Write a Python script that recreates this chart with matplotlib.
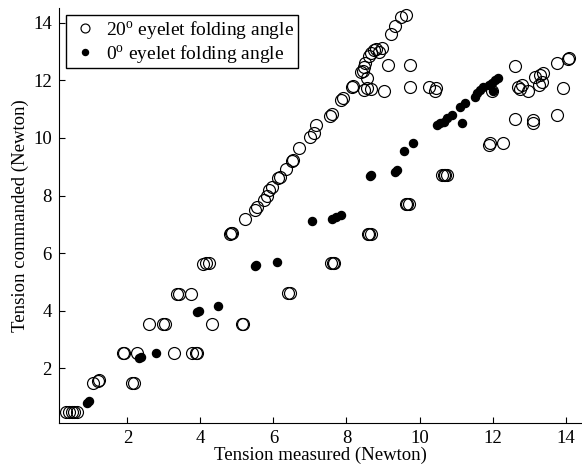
import numpy as np
import matplotlib
matplotlib.use('Agg')
import matplotlib.pyplot as plt

# 20 deg eyelet folding angle (open circles)
x20 = [0.32, 0.40, 0.47, 0.55, 0.62,
       1.05, 1.23, 1.20, 2.12, 2.17,
       1.87, 1.90, 2.26, 3.28, 3.78, 3.88, 3.90,
       2.60, 2.97, 3.04, 4.33, 5.13, 5.17,
       3.35, 3.40, 3.74, 6.41, 6.45,
       4.06, 4.15, 4.24, 7.58, 7.62, 7.66,
       4.80, 4.83, 4.86, 8.58, 8.62, 8.66,
       9.62, 9.66, 9.72,
       10.62, 10.66, 10.70, 10.76,
       11.89, 11.94, 12.30,
       12.62, 13.10, 13.12, 13.76,
       5.22, 5.50, 5.54, 5.74, 5.81, 5.88, 5.95, 6.13, 6.17, 6.34, 6.50, 6.54,
       6.71, 7.01, 7.11, 7.17, 7.55, 7.59, 7.86, 7.90, 8.14, 8.18, 8.41, 8.45,
       8.48, 8.52, 8.57, 8.62, 8.66, 8.76, 8.82, 8.90, 8.98, 9.23, 9.34, 9.48, 9.64,
       8.48, 8.57, 8.66, 9.02, 9.75, 10.25, 10.44, 10.43, 11.98, 12.71, 12.76,
       12.80, 12.98, 13.26, 13.35, 13.94,
       9.14, 9.75, 12.62, 13.17, 13.30, 13.39, 13.76, 14.06, 14.10]
y20 = [0.47, 0.47, 0.47, 0.47, 0.47,
       1.47, 1.58, 1.55, 1.50, 1.50,
       2.53, 2.53, 2.53, 2.53, 2.53, 2.53, 2.53,
       3.55, 3.55, 3.55, 3.55, 3.55, 3.55,
       4.58, 4.58, 4.58, 4.60, 4.60,
       5.62, 5.64, 5.64, 5.64, 5.64, 5.64,
       6.66, 6.71, 6.69, 6.66, 6.66, 6.66,
       7.70, 7.70, 7.70,
       8.71, 8.71, 8.71, 8.71,
       9.76, 9.82, 9.82,
       10.65, 10.63, 10.51, 10.80,
       7.17, 7.50, 7.61, 7.84, 7.98, 8.19, 8.31, 8.60, 8.66, 8.91, 9.20, 9.25,
       9.64, 10.05, 10.17, 10.45, 10.78, 10.82, 11.33, 11.38, 11.76, 11.80, 12.28, 12.33,
       12.45, 12.60, 12.07, 12.85, 12.94, 13.05, 13.10, 13.00, 13.12, 13.62, 13.90, 14.22, 14.26,
       11.67, 11.73, 11.70, 11.65, 11.76, 11.78, 11.75, 11.62, 11.62, 11.78, 11.69,
       11.84, 11.62, 11.84, 11.96, 11.73,
       12.52, 12.52, 12.50, 12.13, 12.19, 12.25, 12.60, 12.75, 12.79]

# 0 deg eyelet folding angle (filled dots)
x0 = [0.89, 0.96, 2.33, 2.37, 2.78, 3.90, 3.95, 4.49, 5.50, 5.52, 6.11,
      7.06, 7.61, 7.70, 7.84, 8.64, 8.68, 9.34, 9.39, 9.57, 9.81,
      10.48, 10.57, 10.66, 10.75, 10.89, 11.16, 11.11, 11.25, 11.52, 11.57,
      11.66, 11.75, 11.89, 11.98, 12.07, 12.16, 12.00]
y0 = [0.80, 0.86, 2.36, 2.39, 2.54, 3.94, 3.99, 4.16, 5.55, 5.58, 5.70,
      7.10, 7.20, 7.25, 7.32, 8.69, 8.72, 8.83, 8.89, 9.56, 9.82,
      10.45, 10.51, 10.57, 10.68, 10.80, 10.51, 11.09, 11.20, 11.44, 11.55,
      11.67, 11.76, 11.84, 11.92, 12.00, 12.08, 11.62]

plt.rcParams['font.family'] = ['Liberation Serif', 'DejaVu Serif']
plt.rcParams['mathtext.fontset'] = 'custom'
plt.rcParams['mathtext.rm'] = 'Liberation Serif'
plt.rcParams['mathtext.it'] = 'Liberation Serif:italic'

fig = plt.figure(figsize=(5.82, 4.66), dpi=100)
ax = fig.add_axes([0.101, 0.092, 0.899, 0.891])

ax.plot(x20, y20, 'o', mfc='none', mec='black', mew=0.85, ms=8.6,
        label=r'20$^{\mathrm{o}}$ eyelet folding angle')
ax.plot(x0, y0, 'o', mfc='black', mec='black', ms=5.8,
        label=r'0$^{\mathrm{o}}$ eyelet folding angle')

ax.set_xlim(0.12, 14.45)
ax.set_ylim(0.09, 14.52)
ax.set_xticks([2, 4, 6, 8, 10, 12, 14])
ax.set_yticks([2, 4, 6, 8, 10, 12, 14])
ax.spines['top'].set_visible(False)
ax.spines['right'].set_visible(False)
ax.tick_params(direction='in', length=4, labelsize=13.5, pad=5)
ax.set_xlabel('Tension measured (Newton)', fontsize=13.5, labelpad=0)
ax.set_ylabel('Tension commanded (Newton)', fontsize=13.5, labelpad=3)

leg = ax.legend(loc='upper left', fontsize=14, frameon=True, fancybox=False,
                edgecolor='black', framealpha=1, borderaxespad=0.35,
                handletextpad=0.3, borderpad=0.2, labelspacing=0.1,
                markerscale=0.75, handlelength=1.6)
leg.get_frame().set_linewidth(1.0)

fig.savefig('out.png', dpi=100)
